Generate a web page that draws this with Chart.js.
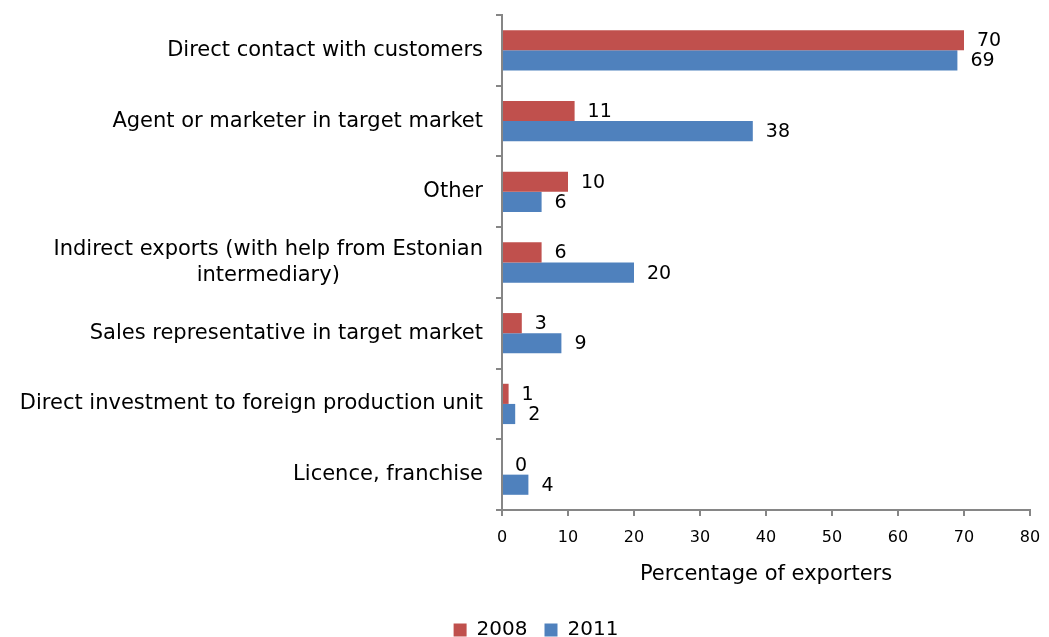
<!DOCTYPE html>
<html>
<head>
<meta charset="utf-8">
<script src="https://cdn.jsdelivr.net/npm/chart.js@4.4.1/dist/chart.umd.min.js"></script>
<style>
  html, body { margin: 0; padding: 0; background: #ffffff; }
  #wrap { width: 1049px; height: 637px; position: relative; }
</style>
</head>
<body>
<div id="wrap"><canvas id="c" width="1049" height="637"></canvas></div>
<script>
const categories = [
  ["Direct contact with customers"],
  ["Agent or marketer in target market"],
  ["Other"],
  ["Indirect exports (with help from Estonian", "intermediary)"],
  ["Sales representative in target market"],
  ["Direct investment to foreign production unit"],
  ["Licence, franchise"]
];
const values2008 = [70, 11, 10, 6, 3, 1, 0];
const values2011 = [69, 38, 6, 20, 9, 2, 4];
const seriesNames = ["2008", "2011"];
const xTicks = [0, 10, 20, 30, 40, 50, 60, 70, 80];

const RED = "#C0504D";
const BLUE = "#4F81BD";
const AXIS = "#868686";
const FONT = "'DejaVu Sans', Verdana, sans-serif";

const catLabelPlugin = {
  id: "catLabels",
  afterDraw(chart) {
    const ctx = chart.ctx;
    const y = chart.scales.y;
    ctx.save();
    ctx.font = "21px " + FONT;
    ctx.fillStyle = "#000000";
    ctx.textBaseline = "middle";
    ctx.textAlign = "center";
    const right = chart.chartArea.left - 19;
    const lh = 26;
    categories.forEach((lines, i) => {
      const cy = y.getPixelForValue(i);
      let w = 0;
      lines.forEach(l => { w = Math.max(w, ctx.measureText(l).width); });
      const cx = right - w / 2;
      const y0 = cy - (lines.length - 1) * lh / 2;
      lines.forEach((l, k) => ctx.fillText(l, cx, y0 + k * lh));
    });
    ctx.restore();
  }
};

const valueLabelPlugin = {
  id: "valueLabels",
  afterDatasetsDraw(chart) {
    const ctx = chart.ctx;
    ctx.save();
    ctx.font = "19px " + FONT;
    ctx.fillStyle = "#000000";
    ctx.textBaseline = "middle";
    ctx.textAlign = "left";
    chart.data.datasets.forEach((ds, di) => {
      const meta = chart.getDatasetMeta(di);
      meta.data.forEach((bar, i) => {
        ctx.fillText(String(ds.data[i]), bar.x + 13, bar.y + 1);
      });
    });
    ctx.restore();
  }
};

new Chart(document.getElementById("c"), {
  type: "bar",
  data: {
    labels: categories.map(l => l.join(" ")),
    datasets: [
      { label: seriesNames[0], data: values2008, backgroundColor: RED, borderWidth: 0 },
      { label: seriesNames[1], data: values2011, backgroundColor: BLUE, borderWidth: 0 }
    ]
  },
  options: {
    indexAxis: "y",
    responsive: false,
    animation: false,
    devicePixelRatio: 1,
    layout: { padding: { top: 15, right: 19, left: 42, bottom: -13 } },
    plugins: {
      legend: {
        display: true,
        position: "bottom",
        labels: {
          font: { family: FONT, size: 20 },
          color: "#000000",
          boxWidth: 13,
          boxHeight: 13,
          padding: 17
        }
      },
      tooltip: { enabled: false }
    },
    datasets: { bar: { categoryPercentage: 0.57, barPercentage: 1.0 } },
    scales: {
      y: {
        type: "category",
        offset: true,
        grid: { display: true, drawOnChartArea: false, offset: true, color: AXIS, tickLength: 6, lineWidth: 2 },
        border: { display: true, color: AXIS, width: 2 },
        ticks: { display: false },
        afterFit(scale) { scale.width = 460; }
      },
      x: {
        type: "linear",
        min: 0,
        max: 80,
        afterBuildTicks(scale) { scale.ticks = xTicks.map(v => ({ value: v })); },
        grid: { display: true, drawOnChartArea: false, color: AXIS, tickLength: 6, lineWidth: 2 },
        border: { display: true, color: AXIS, width: 2 },
        ticks: { font: { family: FONT, size: 16 }, color: "#000000", padding: 12, maxRotation: 0 },
        title: {
          display: true,
          text: "Percentage of exporters",
          font: { family: FONT, size: 21 },
          color: "#000000",
          padding: { top: 4, bottom: 16 }
        },
        afterFit(scale) {
          scale.height = 93;
          scale.paddingLeft = 0;
          scale.paddingRight = 0;
        }
      }
    }
  },
  plugins: [catLabelPlugin, valueLabelPlugin]
});
</script>
</body>
</html>
